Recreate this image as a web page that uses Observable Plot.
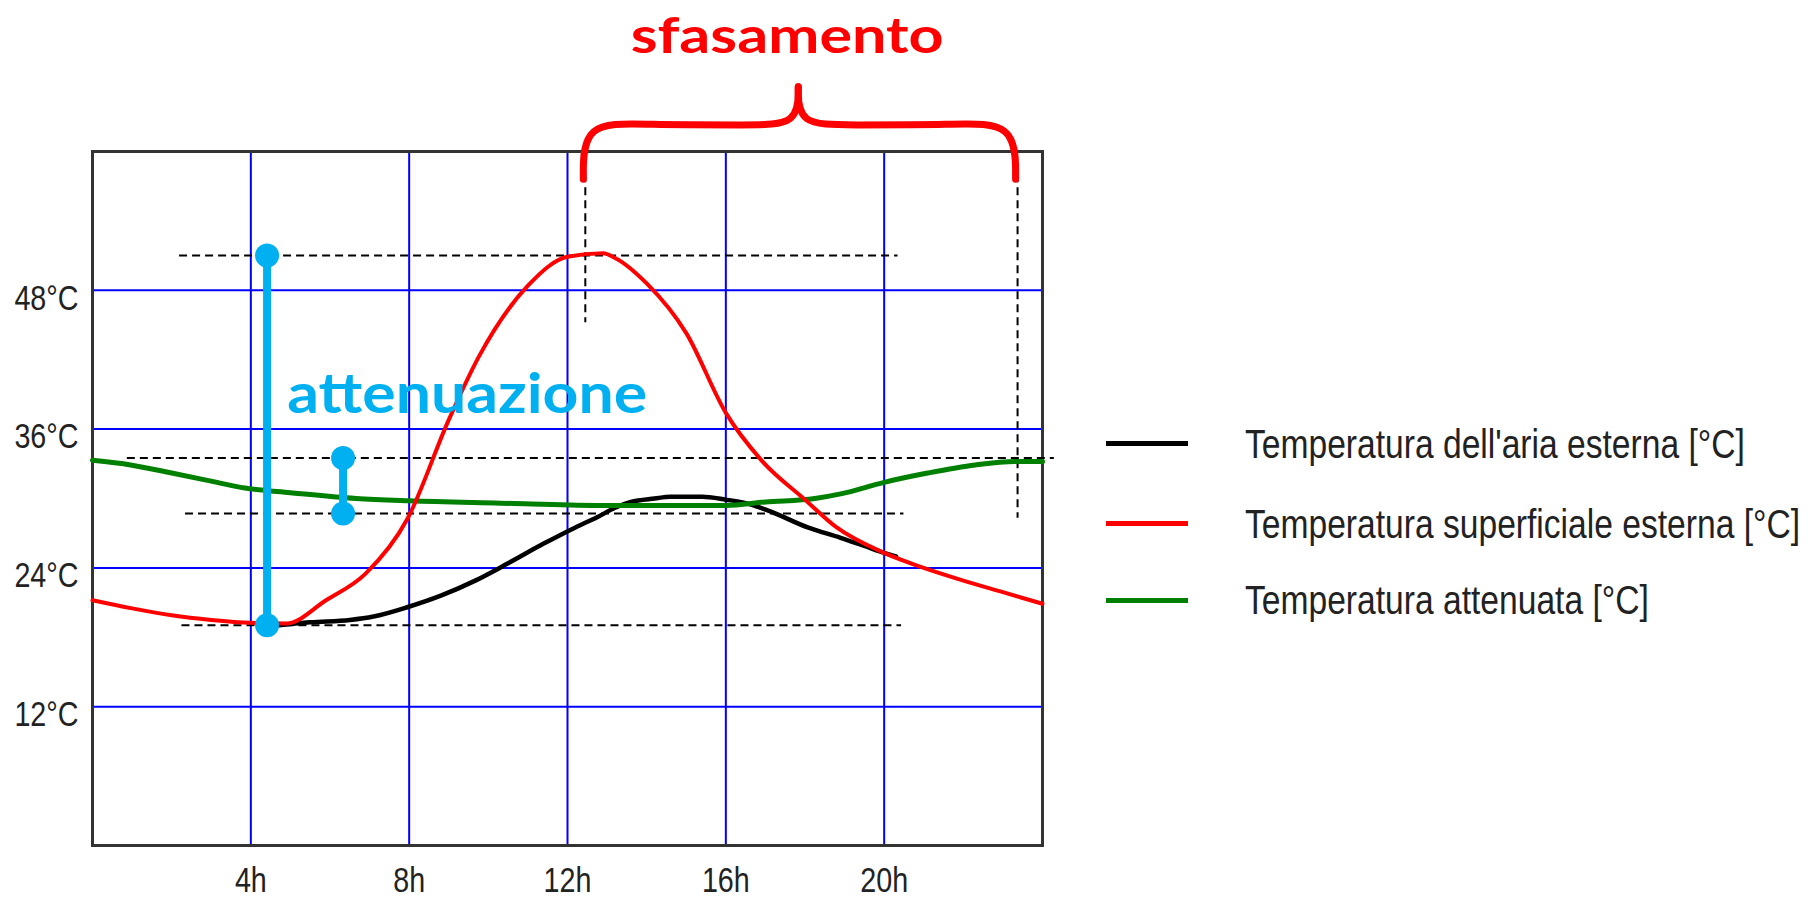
<!DOCTYPE html>
<html><head><meta charset="utf-8">
<script src="https://cdn.jsdelivr.net/npm/d3@7"></script>
<script src="https://cdn.jsdelivr.net/npm/@observablehq/plot@0.6"></script>
<style>
html,body{margin:0;padding:0;background:#fff;overflow:hidden;}
#wrap{position:relative;width:1816px;height:901px;}
#chart{position:absolute;left:0;top:0;}
.lg-line{position:absolute;left:1106px;width:82px;height:5px;}
.lg-text{position:absolute;left:1245px;font-family:"Liberation Sans Narrow","Liberation Sans",Arial,sans-serif;font-size:40px;line-height:40px;color:#222;white-space:nowrap;transform:scaleX(0.84);transform-origin:0 50%;}
</style></head><body>
<div id="wrap"><div id="chart"></div><div id="legend"></div></div>
<script>
// Axis ticks
const xTicks = [4, 8, 12, 16, 20];
const yTicks = [12, 24, 36, 48];

// Temperatura dell'aria esterna [°C]
const airHours = [4.6, 5.5, 6.5, 7.1, 7.95, 8.8, 9.67, 10.5, 11.4, 12.2, 12.76, 13.2, 13.6, 14.2, 14.6, 15.4, 16.0, 16.5, 17.04, 18.07, 18.9, 19.5, 20.0, 20.3];
const airTemps = [19.0, 19.3, 19.5, 19.8, 20.6, 21.6, 22.9, 24.4, 26.1, 27.5, 28.4, 29.2, 29.7, 30.0, 30.15, 30.15, 29.9, 29.6, 29.0, 27.5, 26.6, 25.9, 25.3, 25.0];

// Temperatura superficiale esterna [°C]
const surfHours = [0, 1, 2, 3, 4, 4.9, 5.9, 6.9, 7.95, 9.0, 9.75, 11.0, 12.0, 12.9, 13.2, 14.0, 15.0, 16.0, 16.9, 18.0, 18.8, 20.0, 21.0, 22.0, 23.0, 24.0];
const surfTemps = [21.2, 20.5, 19.9, 19.5, 19.25, 19.2, 21.2, 23.5, 28.2, 36.8, 42.2, 48.4, 50.9, 51.2, 50.8, 48.6, 44.3, 37.4, 33.3, 29.9, 27.5, 25.3, 24.0, 22.9, 21.9, 20.9];

// Temperatura attenuata [°C]
const attHours = [0, 0.96, 2, 3, 3.85, 5, 6.66, 8, 10.3, 12.76, 16, 17, 18.25, 18.9, 20, 21.1, 22.3, 23.3, 24];
const attTemps = [33.3, 32.9, 32.2, 31.5, 30.9, 30.5, 30.0, 29.8, 29.6, 29.4, 29.4, 29.7, 30.0, 30.4, 31.4, 32.2, 32.9, 33.2, 33.2];

// Reference (dashed) levels
const dashLevels = [51.0, 33.5, 28.7, 19.05];
const dashFrom = [2.2, 0.88, 2.35, 2.26];
const dashTo = [20.35, 24.3, 20.5, 20.44];
const phaseHours = [12.45, 23.37];
const phaseTop = [58, 58];
const phaseBottom = [45.2, 28.3];

// Attenuation markers
const attnHours = [4.41, 6.33];
const attnHigh = [51.0, 33.5];
const attnLow = [19.05, 28.7];

// Annotation labels
const annotLabels = ["attenuazione", "sfasamento"];
const annotHours = [4.92, 17.55];
const annotTemps = [37.35, 68.55];

// Brace control points (hours, °C)
const braceLeftH = [12.4, 12.4, 14.0, 16.6, 17.83, 17.83];
const braceLeftT = [57.6, 62.6, 62.3, 62.3, 62.3, 65.6];
const braceRightH = [17.83, 17.83, 19.1, 21.7, 23.32, 23.32];
const braceRightT = [65.6, 62.3, 62.3, 62.3, 62.6, 57.6];

// Legend
const legendLabels = ["Temperatura dell'aria esterna [°C]", "Temperatura superficiale esterna [°C]", "Temperatura attenuata [°C]"];
const legendColors = ["#000000", "#ff0000", "#008000"];

const zip = (hs, ts) => hs.map((h, i) => ({h, t: ts[i]}));
const air = zip(airHours, airTemps);
const surf = zip(surfHours, surfTemps);
const att = zip(attHours, attTemps);
const dashH = dashLevels.map((t, i) => ({t, h1: dashFrom[i], h2: dashTo[i]}));
const dashV = phaseHours.map((h, i) => ({h, t1: phaseTop[i], t2: phaseBottom[i]}));
const attn = attnHours.map((h, i) => ({h, hi: attnHigh[i], lo: attnLow[i]}));
const attnDots = attn.flatMap(d => [{h: d.h, t: d.hi}, {h: d.h, t: d.lo}]);
const brace = [...zip(braceLeftH, braceLeftT).map(d => ({...d, side: "L"})), ...zip(braceRightH, braceRightT).map(d => ({...d, side: "R"}))];
const annot = annotLabels.map((label, i) => ({label, h: annotHours[i], t: annotTemps[i]}));

const chart = Plot.plot({
  width: 1090, height: 901,
  marginLeft: 92, marginRight: 48, marginTop: 151, marginBottom: 56,
  x: {domain: [0, 24], label: null},
  y: {domain: [0, 60], label: null},
  style: {fontFamily: "'Liberation Sans Narrow','Liberation Sans',Arial,sans-serif", fontSize: "35px", color: "#222", background: "#fff", overflow: "visible"},
  marks: [
    Plot.gridX(xTicks, {stroke: "#0000ff", strokeOpacity: 1, strokeWidth: 2}),
    Plot.gridY(yTicks, {stroke: "#0000ff", strokeOpacity: 1, strokeWidth: 2}),
    Plot.axisX(xTicks, {tickSize: 0, tickPadding: 22, tickFormat: d => d + "h", fontSize: 35}),
    Plot.axisY(yTicks, {tickSize: 0, tickPadding: 14, tickFormat: d => d + "°C", fontSize: 35, dy: 8}),
    Plot.frame({stroke: "#333", strokeWidth: 3}),
    Plot.ruleY(dashH, {y: "t", x1: "h1", x2: "h2", stroke: "#000", strokeWidth: 2, strokeDasharray: "8,5"}),
    Plot.ruleX(dashV, {x: "h", y1: "t1", y2: "t2", stroke: "#000", strokeWidth: 2, strokeDasharray: "8,5"}),
    Plot.line(air, {x: "h", y: "t", stroke: "#000", strokeWidth: 4.5, curve: "monotone-x"}),
    Plot.line(att, {x: "h", y: "t", stroke: "#008000", strokeWidth: 5, curve: "monotone-x"}),
    Plot.line(surf, {x: "h", y: "t", stroke: "#ff0000", strokeWidth: 4, curve: "monotone-x"}),
    Plot.ruleX(attn, {x: "h", y1: "lo", y2: "hi", stroke: "#00b0f0", strokeWidth: 8}),
    Plot.dot(attnDots, {x: "h", y: "t", r: 12, fill: "#00b0f0"}),
    Plot.text(annot.slice(0, 1), {x: "h", y: "t", text: "label", textAnchor: "start", lineAnchor: "bottom", fill: "#00b0f0", fontSize: 56, fontWeight: "bold", fontFamily: "Lato", className: "annot-att"}),
    Plot.text(annot.slice(1), {x: "h", y: "t", text: "label", textAnchor: "middle", lineAnchor: "bottom", fill: "#ff0000", fontSize: 50, fontWeight: "bold", fontFamily: "Lato", className: "annot-sfas"}),
    Plot.line(brace, {x: "h", y: "t", z: "side", stroke: "#ff0000", strokeWidth: 7, curve: "basis", strokeLinecap: "round"})
  ]
});
document.getElementById("chart").appendChild(chart);

// Condense tick labels (narrow face as in the original)
chart.querySelectorAll('g[aria-label="x-axis tick label"] text, g[aria-label="y-axis tick label"] text').forEach(t => {
  const w = t.getComputedTextLength();
  t.setAttribute("textLength", (w * 0.82).toFixed(1));
  t.setAttribute("lengthAdjust", "spacingAndGlyphs");
});
const fit = (sel, len) => chart.querySelectorAll(sel + " text").forEach(t => {
  t.setAttribute("textLength", len);
  t.setAttribute("lengthAdjust", "spacingAndGlyphs");
});
fit(".annot-att", 360);
fit(".annot-sfas", 313);

const legendRowY = [443.6, 523.5, 600];
const legend = document.getElementById("legend");
legendLabels.forEach((label, i) => {
  const ln = document.createElement("div");
  ln.className = "lg-line";
  ln.style.top = (legendRowY[i] - 2.5) + "px";
  ln.style.background = legendColors[i];
  legend.appendChild(ln);
  const tx = document.createElement("div");
  tx.className = "lg-text";
  tx.style.top = (legendRowY[i] - 20) + "px";
  tx.textContent = label;
  legend.appendChild(tx);
});
</script>
</body></html>
